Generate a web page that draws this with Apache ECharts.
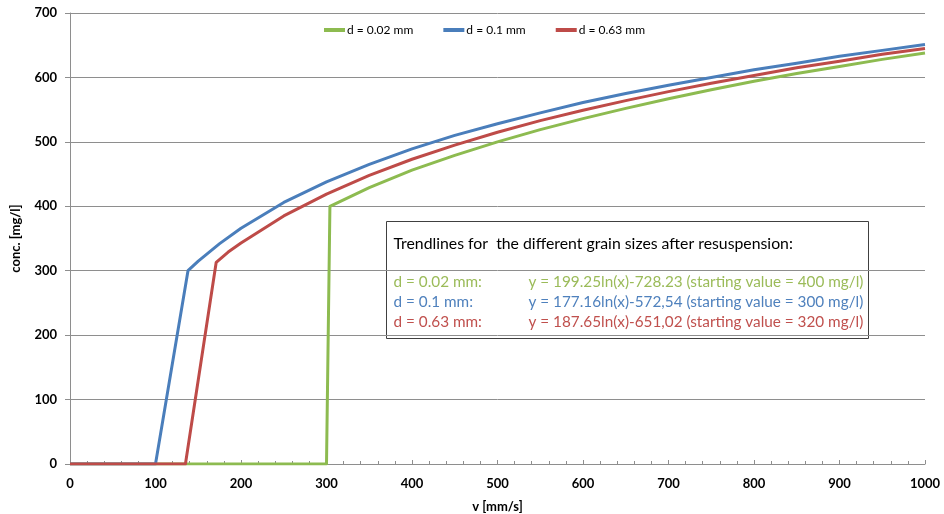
<!DOCTYPE html>
<html>
<head>
<meta charset="utf-8">
<title>Resuspension concentration vs. flow velocity</title>
<script src="https://cdn.jsdelivr.net/npm/echarts@6/dist/echarts.min.js"></script>
<style>
  html, body { margin: 0; padding: 0; background: #fff; }
  #chart { width: 944px; height: 514px; }
</style>
</head>
<body>
<div id="chart"></div>
<script>
// Flow velocity v [mm/s] and concentration [mg/l] for each grain size
const seriesNames = ['d = 0.02 mm', 'd = 0.1 mm', 'd = 0.63 mm'];

const fineV    = [0, 300, 304, 350, 400, 450, 500, 550, 600, 650, 700, 750, 800, 850, 900, 950, 1000];
const fineConc = [0, 0, 400, 429, 456, 479, 500, 519, 536, 552, 567, 581, 594, 606, 617, 628, 638];

const mediumV    = [0, 100, 138, 150, 175, 200, 250, 300, 350, 400, 450, 500, 550, 600, 650, 700, 750, 800, 850, 900, 950, 1000];
const mediumConc = [0, 0, 300, 315, 342, 366, 406, 438, 465, 489, 510, 528, 545, 561, 575, 588, 600, 612, 622, 633, 642, 651];

const coarseV    = [0, 135, 171, 185, 200, 250, 300, 350, 400, 450, 500, 550, 600, 650, 700, 750, 800, 850, 900, 950, 1000];
const coarseConc = [0, 0, 313, 329, 343, 385, 419, 448, 473, 495, 515, 533, 549, 564, 578, 591, 603, 615, 625, 636, 645];

const seriesColors = ['#8dbb50', '#4a7ebb', '#be4b48'];

// Trendline annotation text
const boxTitle = 'Trendlines for  the different grain sizes after resuspension:';
const boxLabels = ['d = 0.02 mm:', 'd = 0.1 mm:', 'd = 0.63 mm:'];
const boxFormulas = [
  'y = 199.25ln(x)-728.23 (starting value = 400 mg/l)',
  'y = 177.16ln(x)-572,54 (starting value = 300 mg/l)',
  'y = 187.65ln(x)-651,02 (starting value = 320 mg/l)'
];
const boxTextColors = ['#9bbb59', '#4f81bd', '#c0504d'];

function pairs(xs, ys) {
  return xs.map((x, i) => [x, ys[i]]);
}

const dataSets = [pairs(fineV, fineConc), pairs(mediumV, mediumConc), pairs(coarseV, coarseConc)];

const labelFont = 'Lato, "Open Sans", sans-serif';
const gridColor = '#8e8e8e';

const chart = echarts.init(document.getElementById('chart'), null, { renderer: 'canvas' });

const boxChildren = [
  {
    type: 'rect',
    shape: { x: 0, y: 0, width: 482, height: 117 },
    style: { fill: '#ffffff', stroke: '#404040', lineWidth: 1 }
  },
  {
    type: 'text',
    x: 7, y: 22,
    style: { text: boxTitle, fill: '#000', font: '15.8px ' + labelFont, verticalAlign: 'middle' }
  }
];
boxLabels.forEach((lab, i) => {
  boxChildren.push({
    type: 'text', x: 7, y: 61 + i * 20,
    style: { text: lab, fill: boxTextColors[i], font: '15.3px ' + labelFont, verticalAlign: 'middle' }
  });
  boxChildren.push({
    type: 'text', x: 142, y: 61 + i * 20,
    style: { text: boxFormulas[i], fill: boxTextColors[i], font: '15.3px ' + labelFont, verticalAlign: 'middle' }
  });
});

chart.setOption({
  animation: false,
  backgroundColor: '#ffffff',
  color: seriesColors,
  grid: { left: 70, right: 19, top: 13, bottom: 50, containLabel: false, outerBoundsMode: 'none' },
  legend: {
    data: seriesNames,
    left: 324,
    top: 24,
    padding: 0,
    icon: 'rect',
    itemWidth: 21,
    itemHeight: 4,
    itemGap: 30,
    textStyle: { fontFamily: labelFont, fontSize: 12, color: '#000', padding: [0, 0, 0, -3] }
  },
  xAxis: {
    type: 'value',
    min: 0,
    max: 1000,
    interval: 100,
    name: 'v [mm/s]',
    nameLocation: 'middle',
    nameGap: 36,
    nameTextStyle: { fontFamily: labelFont, fontWeight: 'bold', fontSize: 13, color: '#000' },
    axisLine: { show: true, onZero: false, lineStyle: { color: gridColor, width: 1 } },
    axisTick: { show: true, inside: true, length: 4, lineStyle: { color: gridColor } },
    minorTick: { show: true, splitNumber: 5, length: 3, lineStyle: { color: gridColor } },
    axisLabel: {
      fontFamily: labelFont, fontWeight: 'bold', fontSize: 13, color: '#000', margin: 13,
      formatter: (v) => String(v)
    },
    splitLine: { show: false }
  },
  yAxis: {
    type: 'value',
    min: 0,
    max: 700,
    interval: 100,
    name: 'conc. [mg/l]',
    nameLocation: 'middle',
    nameGap: 48,
    nameTextStyle: { fontFamily: labelFont, fontWeight: 'bold', fontSize: 13, color: '#000' },
    axisLine: { show: true, lineStyle: { color: gridColor, width: 1 } },
    axisTick: { show: true, length: 5, lineStyle: { color: gridColor } },
    axisLabel: { fontFamily: labelFont, fontWeight: 'bold', fontSize: 13, color: '#000', margin: 13 },
    splitLine: { show: true, lineStyle: { color: gridColor, width: 1 } }
  },
  series: seriesNames.map((name, i) => ({
    name: name,
    type: 'line',
    data: dataSets[i],
    symbol: 'none',
    smooth: false,
    lineStyle: { width: 3, color: seriesColors[i], join: 'round' },
    itemStyle: { color: seriesColors[i] },
    z: 3 + i
  })),
  graphic: [
    { type: 'group', left: 386, top: 221, children: boxChildren }
  ]
});
</script>
</body>
</html>
